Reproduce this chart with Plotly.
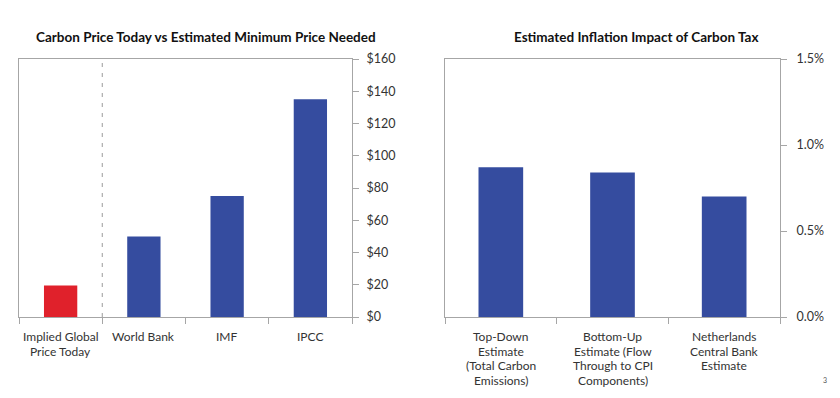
import plotly.graph_objects as go

# Data
price_categories = ["Implied Global<br>Price Today", "World Bank", "IMF", "IPCC"]
price_values = [19.5, 50, 75, 135]
price_colors = ["#E0212B", "#354C9F", "#354C9F", "#354C9F"]
price_ticks = [0, 20, 40, 60, 80, 100, 120, 140, 160]
price_tick_labels = ["$0", "$20", "$40", "$60", "$80", "$100", "$120", "$140", "$160"]

infl_categories = [
    "Top-Down<br>Estimate<br>(Total Carbon<br>Emissions)",
    "Bottom-Up<br>Estimate (Flow<br>Through to CPI<br>Components)",
    "Netherlands<br>Central Bank<br>Estimate",
]
infl_values = [0.0087, 0.0084, 0.0070]
infl_ticks = [0, 0.005, 0.010, 0.015]
infl_tick_labels = ["0.0%", "0.5%", "1.0%", "1.5%"]

# The page body has an 8px default margin; the figure is sized to fit the viewport.
VW, VH = 840, 398
OFF = 8
W, H = VW - OFF, VH - OFF


def px(x):
    return (x - OFF) / W


def py(y):
    return 1 - (y - OFF) / H


FONT = "Lato"
AXIS_COLOR = "#a6a6a6"
TEXT_COLOR = "#333333"
TICK_SIZE = 12.5
CAT_SIZE = 12

fig = go.Figure()
fig.add_trace(go.Bar(x=price_categories, y=price_values, marker=dict(color=price_colors, line=dict(width=0)),
                     width=0.4, xaxis="x", yaxis="y", showlegend=False))
fig.add_trace(go.Bar(x=infl_categories, y=infl_values, marker=dict(color="#354C9F", line=dict(width=0)),
                     width=0.4, xaxis="x2", yaxis="y2", showlegend=False))

y_dom = [py(317), py(59)]
common_x = dict(type="category", showline=True, linecolor=AXIS_COLOR, linewidth=1, mirror=True,
                ticks="outside", ticklen=6, tickcolor=AXIS_COLOR, tickson="boundaries",
                showgrid=False, zeroline=False, fixedrange=True, automargin=False, tickangle=0,
                showticklabels=False)
common_y = dict(side="right", showline=True, linecolor=AXIS_COLOR, linewidth=1, mirror=True,
                ticks="outside", ticklen=6, tickcolor=AXIS_COLOR, showgrid=False, zeroline=False,
                automargin=False, fixedrange=True,
                tickfont=dict(family=FONT, size=TICK_SIZE, color=TEXT_COLOR), domain=y_dom)

annotations = [
    dict(text="<b>Carbon Price Today vs Estimated Minimum Price Needed</b>", x=px(206), y=py(37),
         xref="paper", yref="paper", showarrow=False, xanchor="center", yanchor="middle",
         font=dict(family=FONT, size=13.5, color="#111111")),
    dict(text="<b>Estimated Inflation Impact of Carbon Tax</b>", x=px(636), y=py(37),
         xref="paper", yref="paper", showarrow=False, xanchor="center", yanchor="middle",
         font=dict(family=FONT, size=13.5, color="#111111")),
    dict(text="3", x=px(825), y=py(380), xref="paper", yref="paper", showarrow=False,
         xanchor="center", yanchor="middle", font=dict(family=FONT, size=7, color="#555555")),
]

# Category labels, one line per annotation for tight leading
LINE0, LEAD = 336.8, 14.4
for cats, xr in ((price_categories, "x"), (infl_categories, "x2")):
    for cat in cats:
        for i, line in enumerate(cat.split("<br>")):
            annotations.append(dict(text=line, x=cat, xref=xr, y=py(LINE0 + LEAD * i), yref="paper",
                                    showarrow=False, xanchor="center", yanchor="middle",
                                    font=dict(family=FONT, size=CAT_SIZE, color=TEXT_COLOR)))

fig.update_layout(
    width=W, height=H,
    margin=dict(l=0, r=0, t=0, b=0),
    paper_bgcolor="white", plot_bgcolor="white",
    xaxis=dict(common_x, domain=[px(19), px(352)], anchor="y", range=[-0.5, 3.5]),
    yaxis=dict(common_y, anchor="x", range=[0, 160], tickvals=price_ticks, ticktext=price_tick_labels,
               ticklabelstandoff=5),
    xaxis2=dict(common_x, domain=[px(445), px(780)], anchor="y2", range=[-0.5, 2.5]),
    yaxis2=dict(common_y, anchor="x2", range=[0, 0.015], tickvals=infl_ticks, ticktext=infl_tick_labels,
                ticklabelstandoff=7),
    shapes=[dict(type="line", xref="x", yref="y", x0=0.5, x1=0.5, y0=0, y1=160,
                 line=dict(color="#9a9a9a", width=1, dash="4px,6px"))],
    annotations=annotations,
)

fig.write_html("out.html")
